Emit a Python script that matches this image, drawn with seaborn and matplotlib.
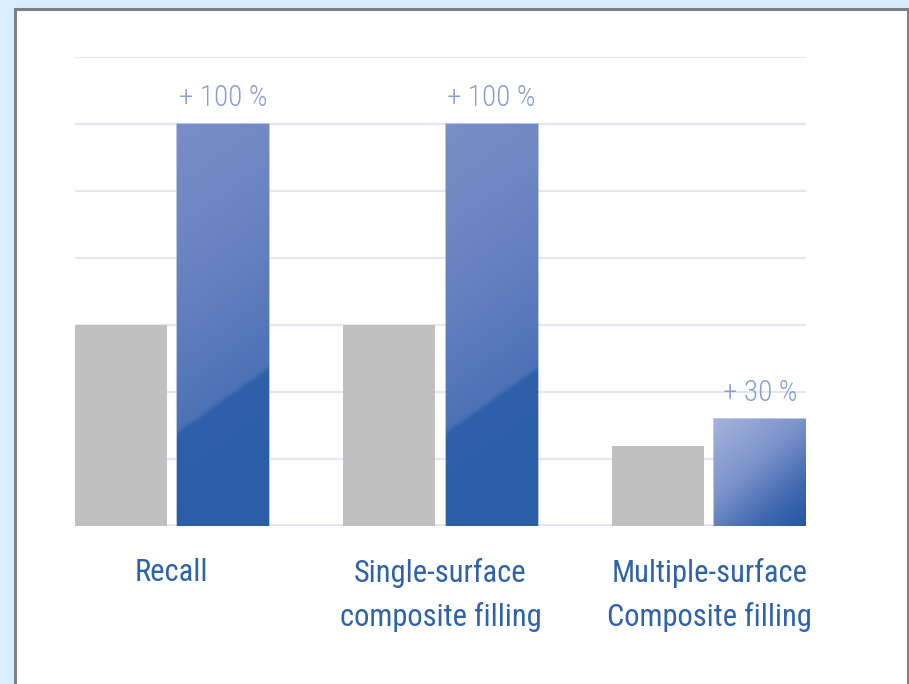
import numpy as np
import pandas as pd
import matplotlib
matplotlib.use("Agg")
import matplotlib.pyplot as plt
from matplotlib import font_manager
from matplotlib.patches import Rectangle
from matplotlib.colors import LinearSegmentedColormap
import seaborn as sns

# ---- data ----
categories = ["Recall", "Single-surface\ncomposite filling", "Multiple-surface\nComposite filling"]
series = ["Standard", "Improved"]
standard_values = [3.0, 3.0, 1.2]
improved_values = [6.0, 6.0, 1.6]
increase_labels = ["+ 100 %", "+ 100 %", "+ 30 %"]

df = pd.DataFrame({
    "category": categories * 2,
    "series": [series[0]] * 3 + [series[1]] * 3,
    "value": standard_values + improved_values,
})

sns.set_theme(style="white")
available = {f.name for f in font_manager.fontManager.ttflist}
narrow = [f for f in ["Roboto Condensed", "Liberation Sans Narrow", "Open Sans Condensed",
                      "Liberation Sans"] if f in available]
is_condensed = bool(narrow) and narrow[0] != "Liberation Sans"
plt.rcParams["font.family"] = narrow + ["DejaVu Sans"]

W, H = 909, 684
fig = plt.figure(figsize=(W / 100, H / 100), dpi=100)
fig.patch.set_facecolor("#d6eefd")

# inner white panel with grey border
panel = Rectangle((14.5 / W, -0.1), (907.5 - 14.5) / W, (H - 8.5) / H + 0.1,
                  transform=fig.transFigure, facecolor="white",
                  edgecolor="#808080", linewidth=2.2, zorder=-5)
fig.patches.append(panel)

ax = fig.add_axes([75 / W, (H - 526) / H, 731 / W, (526 - 57) / H])
ax.set_zorder(2)
ax.set_facecolor("none")

sns.barplot(data=df, x="category", y="value", hue="series",
            palette=["#c0c0c0", "#2b5ea9"], width=0.76, gap=0.1,
            dodge=True, legend=False, ax=ax, zorder=3, linewidth=0)

ax.set_xlim(-0.36, 2.36)
ax.set_ylim(0, 7)

# gridlines
for yv in range(1, 8):
    ax.axhline(yv, color="#e4e7f3", linewidth=1.6, zorder=1)
ax.axhline(0, color="#e2e6f2", linewidth=3.5, zorder=2)

# glossy gradient for the tall blue bars, smooth diagonal for the short one
cmap_tall = LinearSegmentedColormap.from_list(
    "tall", [(0.0, "#7a8ec8"), (0.45, "#6580c0"), (0.76, "#4d72b6"),
             (0.78, "#2f60a9"), (1.0, "#2a5ca7")])
cmap_short = LinearSegmentedColormap.from_list(
    "short", [(0.0, "#a6b4dd"), (0.45, "#7c93cb"), (0.8, "#4068b1"), (1.0, "#2a5aa6")])
ny, nx = 200, 60
yy, xx = np.mgrid[0:1:ny * 1j, 0:1:nx * 1j]

n_cat = len(categories)
blue_patches = ax.patches[n_cat:2 * n_cat]
fs_ann = 21 if is_condensed else 19
for p, lab in zip(blue_patches, increase_labels):
    x0, y0 = p.get_x(), p.get_y()
    w, h = p.get_width(), p.get_height()
    if h > 3:
        grad = np.clip(yy + 0.16 * xx, 0, 1.0)
        grad = np.where(grad < 0.77, grad, 0.78 + (grad - 0.78) * 0.5)
        cmap = cmap_tall
    else:
        grad = np.clip(0.6 * yy + 0.45 * xx, 0, 1)
        cmap = cmap_short
    p.set_facecolor("none")
    p.set_edgecolor("#abbde2")
    p.set_linewidth(1.2)
    im = ax.imshow(grad, cmap=cmap, vmin=0, vmax=1, extent=[x0, x0 + w, y0, y0 + h],
                   aspect="auto", zorder=3, interpolation="bilinear", origin="upper")
    im.set_clip_path(p)
    ax.text(x0 + w / 2, y0 + h + 0.27, lab, ha="center", va="baseline",
            fontsize=fs_ann, fontweight="light", color="#8a9dd0", zorder=5)

ax.set_xlim(-0.36, 2.36)
ax.set_ylim(0, 7)

for s in ax.spines.values():
    s.set_visible(False)
ax.set_yticks([])
ax.set_xlabel("")
ax.set_ylabel("")
ax.tick_params(axis="x", length=0, pad=23)
for t in ax.get_xticklabels():
    t.set_fontsize(22 if is_condensed else 20)
    t.set_color("#2f62aa")
    t.set_linespacing(1.6)
    t.set_va("top")

fig.savefig("out.png", dpi=100, facecolor=fig.get_facecolor())
